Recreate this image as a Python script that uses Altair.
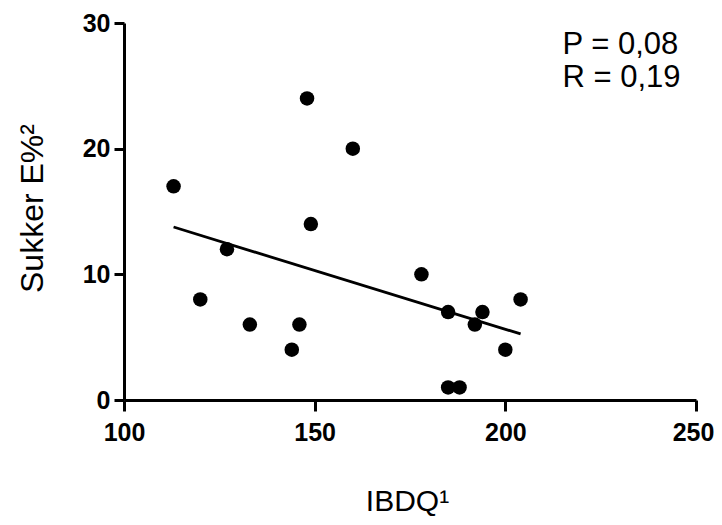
import altair as alt
import pandas as pd

ibdq = [113, 120, 127, 133, 144, 146, 148, 149, 160, 178, 185, 185, 188, 192, 194, 200, 204]
sukker = [17, 8, 12, 6, 4, 6, 24, 14, 20, 10, 7, 1, 1, 6, 7, 4, 8]
x_ticks = [100, 150, 200, 250]
y_ticks = [0, 10, 20, 30]
stats_text = ["P = 0,08", "R = 0,19"]

df = pd.DataFrame({"x": ibdq, "y": sukker})

FONT = "Liberation Sans"

xscale = alt.Scale(domain=[100, 250], nice=False, zero=False)
yscale = alt.Scale(domain=[0, 30], nice=False)

xaxis = alt.Axis(
    values=x_ticks, title="IBDQ¹", grid=False, labelFlush=False,
    domainColor="black", domainWidth=3, tickColor="black", tickWidth=3, tickSize=11,
    labelFont=FONT, labelFontSize=25, labelFontWeight="bold", labelColor="black",
    labelPadding=9,
    labelOffset={"condition": {"test": "datum.value == 250", "value": -3}, "value": 0},
    titleFont=FONT, titleFontSize=30, titleFontWeight="normal", titleColor="black",
    titleX=283, titleY=110, titleBaseline="alphabetic",
)
yaxis = alt.Axis(
    values=y_ticks, title="Sukker E%²", grid=False, labelFlush=False,
    domainColor="black", domainWidth=3, tickColor="black", tickWidth=3, tickSize=10,
    labelFont=FONT, labelFontSize=25, labelFontWeight="bold", labelColor="black",
    labelPadding=4,
    titleFont=FONT, titleFontSize=32, titleFontWeight="normal", titleColor="black",
    titleX=-82, titleY=185, titleBaseline="alphabetic",
)

base = alt.Chart(df)

points = base.mark_circle(size=210, color="black", opacity=1).encode(
    x=alt.X("x:Q", scale=xscale, axis=xaxis),
    y=alt.Y("y:Q", scale=yscale, axis=yaxis),
)

fit = base.transform_regression("x", "y").mark_line(color="black", strokeWidth=2.8).encode(
    x=alt.X("x:Q", scale=xscale),
    y=alt.Y("y:Q", scale=yscale),
)

note = alt.Chart(pd.DataFrame({"t": ["\n".join(stats_text)]})).mark_text(
    align="left", baseline="alphabetic", font=FONT, fontSize=31, color="black",
    lineBreak="\n", lineHeight=33,
).encode(
    x=alt.datum(215),
    y=alt.datum(27.5),
    text="t:N",
)

chart = (points + fit + note).properties(
    width=572, height=377,
    autosize=alt.AutoSizeParams(type="none"),
    padding={"left": 116, "top": 15, "right": 18, "bottom": 117},
).configure_view(stroke=None)

chart.save("out.html", embed_options={"renderer": "svg", "actions": False})
